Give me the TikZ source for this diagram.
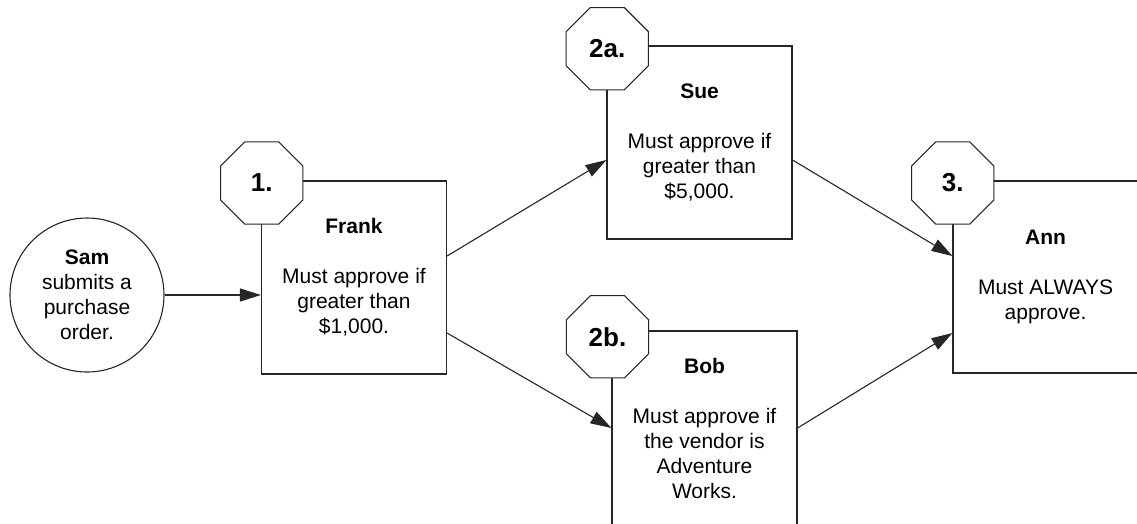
\documentclass[tikz,border=0pt]{standalone}
\usepackage{fontspec}
\setmainfont{Liberation Sans}
\usetikzlibrary{shapes.geometric,arrows.meta}
\begin{document}
\begin{tikzpicture}[x=1pt,y=-1pt,
  every node/.style={font=\fontsize{21}{25}\selectfont},
  ink/.style={draw=black!85, line width=1.1pt},
  person/.style={ink, fill=white, align=center, inner sep=0pt,
    minimum width=185pt, minimum height=193pt},
  starter/.style={ink, fill=white, circle, align=center, inner sep=0pt,
    minimum size=154pt},
  stepno/.style={ink, fill=white, regular polygon, regular polygon sides=8,
    inner sep=0pt, minimum size=89pt,
    font=\bfseries\fontsize{26}{30}\selectfont},
  flow/.style={ink, -{Triangle[length=21pt,width=13pt]}}
]
\path[use as bounding box, clip] (0,0) rectangle (1137,523);

% participants
\node[starter] (sam) at (87,295) {\textbf{Sam}\\submits a\\purchase\\order.};
\node[person] (frank) at (354,277.5)
  {\textbf{Frank}\\[25pt]Must approve if\\greater than\\\$1,000.};
\node[person] (sue) at (699.5,142.5)
  {\textbf{Sue}\\[25pt]Must approve if\\greater than\\\$5,000.};
\node[person, minimum height=194pt] (bob) at (704.5,428)
  {\textbf{Bob}\\[25pt]Must approve if\\the vendor is\\Adventure\\Works.};
\node[person, minimum height=192pt] (ann) at (1045.5,277)
  {\textbf{Ann}\\[25pt]Must ALWAYS\\approve.};

% step numbers on the top-left corners
\node[stepno] (s1)  at (261.7,183)   {1.};
\node[stepno] (s2a) at (607.3,48.7)  {2a.};
\node[stepno] (s2b) at (607.5,336.7) {2b.};
\node[stepno] (s3)  at (952.7,183)   {3.};

% connection points
\coordinate (fo1) at ([yshift=21.5pt]frank.east);
\coordinate (fo2) at ([yshift=-55.5pt]frank.east);
\coordinate (suein) at ([yshift=-17.5pt]sue.west);
\coordinate (sueout) at ([yshift=-17.5pt]sue.east);
\coordinate (ai1) at ([yshift=21pt]ann.west);
\coordinate (ai2) at ([yshift=-56pt]ann.west);

% flow
\draw[flow] (sam.east) -- (sam.east -| frank.west);
\draw[flow] (fo1) -- (suein);
\draw[flow] (fo2) -- (bob.west);
\draw[flow] (sueout) -- (ai1);
\draw[flow] (bob.east) -- (ai2);
\end{tikzpicture}
\end{document}
